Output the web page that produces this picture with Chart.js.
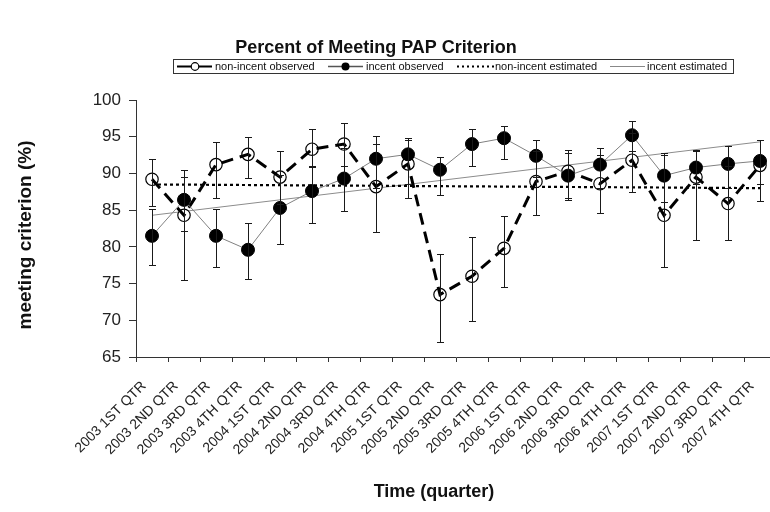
<!DOCTYPE html>
<html>
<head>
<meta charset="utf-8">
<script src="https://cdn.jsdelivr.net/npm/chart.js@4.4.1/dist/chart.umd.min.js"></script>
<style>
  html, body { margin: 0; padding: 0; background: #fff; overflow: hidden; }
  #wrap { width: 790px; height: 512px; }
</style>
</head>
<body>
<div id="wrap"><canvas id="chart" width="790" height="512"></canvas></div>
<script>
const quarters = [
  "2003 1ST QTR", "2003 2ND QTR", "2003 3RD QTR", "2003 4TH QTR",
  "2004 1ST QTR", "2004 2ND QTR", "2004 3RD QTR", "2004 4TH QTR",
  "2005 1ST QTR", "2005 2ND QTR", "2005 3RD QTR", "2005 4TH QTR",
  "2006 1ST QTR", "2006 2ND QTR", "2006 3RD QTR", "2006 4TH QTR",
  "2007 1ST QTR", "2007 2ND QTR", "2007 3RD QTR", "2007 4TH QTR"
];

const nonIncentObserved = [89.2, 84.3, 91.2, 92.6, 89.5, 93.3, 94.0, 88.2, 91.3, 73.5, 76.0, 79.8, 88.9, 90.3, 88.6, 91.8, 84.3, 89.5, 85.9, 91.1];
const nonIncentLow      = [85.6, 75.5, 86.6, 89.4, 85.8, 90.9, 91.0, 82.0, 86.6, 67.0, 69.9, 74.5, 84.4, 86.4, 84.6, 87.5, 77.3, 80.9, 80.9, 86.3];
const nonIncentHigh     = [92.0, 89.5, 94.3, 94.9, 93.0, 96.0, 96.8, 94.0, 94.8, 79.0, 81.3, 84.2, 93.0, 93.2, 92.5, 95.5, 92.8, 93.2, 91.0, 94.5];

const incentObserved = [81.5, 86.4, 81.5, 79.6, 85.3, 87.6, 89.3, 92.0, 92.6, 90.5, 94.0, 94.8, 92.4, 89.7, 91.2, 95.2, 89.7, 90.8, 91.3, 91.7];
const incentLow      = [77.5, 82.2, 77.3, 75.6, 80.4, 83.2, 84.9, 88.0, 88.5, 87.0, 91.0, 92.0, 89.5, 86.6, 88.0, 93.0, 86.1, 88.5, 88.0, 88.5];
const incentHigh     = [85.1, 90.5, 85.2, 83.2, 89.8, 91.0, 93.5, 95.1, 94.5, 92.2, 96.0, 96.5, 94.6, 92.8, 93.5, 97.2, 92.5, 93.0, 93.7, 94.5];

const nonIncentEstimated = [88.5, ...Array(18).fill(null), 88.0];
const incentEstimated    = [84.3, ...Array(18).fill(null), 94.3];

const legendItems = ["non-incent observed", "incent observed", "non-incent estimated", "incent estimated"];

// error bars drawn on top of the series
const errorBars = {
  id: "errorBars",
  afterDatasetsDraw(chart) {
    const { ctx, scales: { x, y } } = chart;
    ctx.save();
    ctx.strokeStyle = "#1a1a1a";
    ctx.lineWidth = 1;
    [[nonIncentLow, nonIncentHigh], [incentLow, incentHigh]].forEach(([lo, hi]) => {
      lo.forEach((v, i) => {
        const px = Math.round(x.getPixelForValue(i)) + 0.5;
        const yLo = Math.round(y.getPixelForValue(v)) + 0.5;
        const yHi = Math.round(y.getPixelForValue(hi[i])) + 0.5;
        ctx.beginPath();
        ctx.moveTo(px, yLo); ctx.lineTo(px, yHi);
        ctx.moveTo(px - 3.5, yLo); ctx.lineTo(px + 3.5, yLo);
        ctx.moveTo(px - 3.5, yHi); ctx.lineTo(px + 3.5, yHi);
        ctx.stroke();
      });
    });
    ctx.restore();
  }
};

// title, axis titles and the boxed legend
const labelsPlugin = {
  id: "labelsPlugin",
  afterDraw(chart) {
    const ctx = chart.ctx;
    ctx.save();
    ctx.fillStyle = "#111";
    ctx.textAlign = "center";
    ctx.textBaseline = "alphabetic";
    ctx.font = "bold 18px Arial";
    ctx.fillText("Percent of Meeting PAP Criterion", 376, 53);

    ctx.fillText("Time (quarter)", 434, 497);

    ctx.save();
    ctx.translate(31, 235);
    ctx.rotate(-Math.PI / 2);
    ctx.font = "bold 19px Arial";
    ctx.fillText("meeting criterion (%)", 0, 0);
    ctx.restore();

    // legend box
    ctx.strokeStyle = "#333";
    ctx.lineWidth = 1;
    ctx.strokeRect(173.5, 59.5, 560, 14);
    const ly = 66.5;
    ctx.font = "11px Arial";
    ctx.textAlign = "left";
    ctx.textBaseline = "middle";

    // non-incent observed
    ctx.strokeStyle = "#000";
    ctx.lineWidth = 2;
    ctx.beginPath(); ctx.moveTo(177, ly); ctx.lineTo(212, ly); ctx.stroke();
    ctx.fillStyle = "#fff";
    ctx.lineWidth = 1.2;
    ctx.beginPath(); ctx.arc(195, ly, 3.8, 0, Math.PI * 2); ctx.fill(); ctx.stroke();
    ctx.fillStyle = "#111";
    ctx.fillText(legendItems[0], 215, ly);

    // incent observed
    ctx.strokeStyle = "#555";
    ctx.lineWidth = 1.5;
    ctx.beginPath(); ctx.moveTo(328, ly); ctx.lineTo(363, ly); ctx.stroke();
    ctx.fillStyle = "#000";
    ctx.beginPath(); ctx.arc(345.5, ly, 4, 0, Math.PI * 2); ctx.fill();
    ctx.fillStyle = "#111";
    ctx.fillText(legendItems[1], 366, ly);

    // non-incent estimated
    ctx.strokeStyle = "#000";
    ctx.lineWidth = 2;
    ctx.setLineDash([2, 3]);
    ctx.beginPath(); ctx.moveTo(457, ly); ctx.lineTo(494, ly); ctx.stroke();
    ctx.setLineDash([]);
    ctx.fillText(legendItems[2], 495, ly);

    // incent estimated
    ctx.strokeStyle = "#888";
    ctx.lineWidth = 1;
    ctx.beginPath(); ctx.moveTo(610, ly); ctx.lineTo(645, ly); ctx.stroke();
    ctx.fillText(legendItems[3], 647, ly);
    ctx.restore();
  }
};

new Chart(document.getElementById("chart"), {
  type: "line",
  data: {
    labels: quarters,
    datasets: [
      {
        label: "non-incent observed",
        data: nonIncentObserved,
        showLine: false,
        pointRadius: 6.2,
        pointBackgroundColor: "#fff",
        pointBorderColor: "#000",
        pointBorderWidth: 1.2,
        order: 4
      },
      {
        label: "non-incent observed line",
        data: nonIncentObserved,
        borderColor: "#000",
        borderWidth: 3,
        borderDash: [12, 7],
        pointRadius: 0,
        fill: false,
        order: 3
      },
      {
        label: "incent observed",
        data: incentObserved,
        borderColor: "#808080",
        borderWidth: 1,
        pointRadius: 6.5,
        pointBackgroundColor: "#000",
        pointBorderColor: "#000",
        pointBorderWidth: 1,
        fill: false,
        order: 2
      },
      {
        label: "non-incent estimated",
        data: nonIncentEstimated,
        borderColor: "#000",
        borderWidth: 2.2,
        borderDash: [3, 3],
        pointRadius: 0,
        spanGaps: true,
        fill: false,
        order: 5
      },
      {
        label: "incent estimated",
        data: incentEstimated,
        borderColor: "#8c8c8c",
        borderWidth: 1,
        pointRadius: 0,
        spanGaps: true,
        fill: false,
        order: 6
      }
    ]
  },
  options: {
    responsive: false,
    animation: false,
    events: [],
    layout: { padding: { top: 100, right: 14, left: 0, bottom: 0 } },
    elements: { line: { tension: 0 } },
    plugins: {
      legend: { display: false },
      title: { display: false },
      tooltip: { enabled: false }
    },
    scales: {
      x: {
        offset: true,
        grid: { offset: true, drawOnChartArea: false, drawTicks: true, tickLength: 5, color: "#333" },
        border: { color: "#333", width: 1 },
        ticks: {
          autoSkip: false,
          minRotation: 45,
          maxRotation: 45,
          labelOffset: -8,
          padding: 16,
          color: "#222",
          font: { family: "Arial", size: 14 }
        },
        afterFit(scale) { scale.height = 155; }
      },
      y: {
        min: 65,
        max: 100,
        grid: { drawOnChartArea: false, drawTicks: true, tickLength: 7, color: "#333" },
        border: { color: "#333", width: 1 },
        ticks: { stepSize: 5, padding: 8, color: "#222", font: { family: "Arial", size: 17 } },
        afterFit(scale) { scale.width = 136; }
      }
    }
  },
  plugins: [errorBars, labelsPlugin]
});
</script>
</body>
</html>
